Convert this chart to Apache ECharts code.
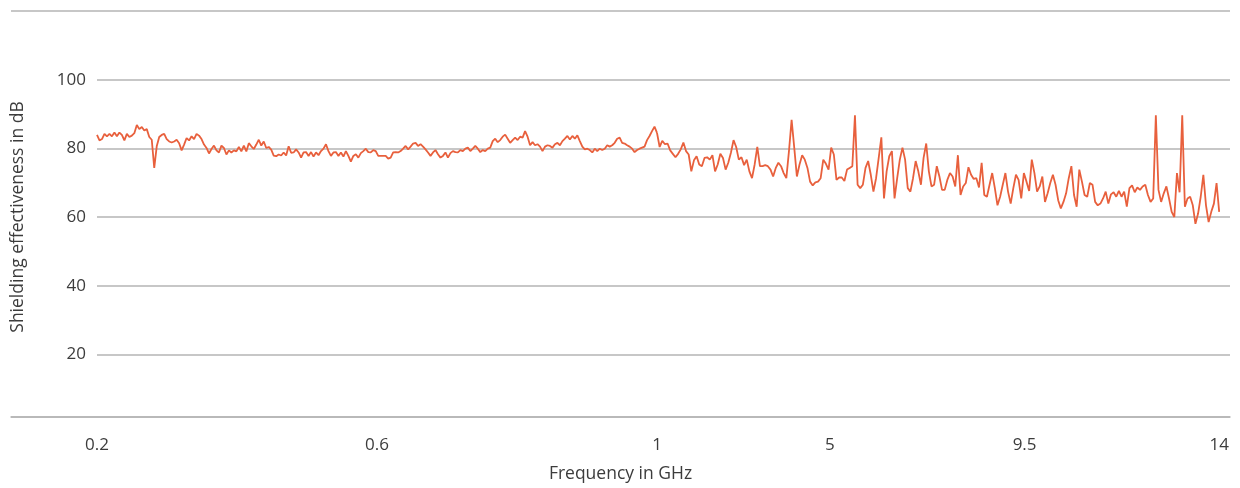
<!DOCTYPE html>
<html>
<head>
<meta charset="utf-8">
<script src="https://cdn.jsdelivr.net/npm/echarts@6/dist/echarts.min.js"></script>
<style>
html,body{margin:0;padding:0;background:#fff;}
#chart{width:1240px;height:488px;}
</style>
</head>
<body>
<div id="chart"></div>
<script>
// Frequency sweep bands (GHz)
const lowBandStart = 0.2;
const lowBandEnd = 1;
const highBandStart = 1;
const highBandEnd = 14;

// Shielding effectiveness (dB), 0.2 - 1 GHz sweep
const lowBandValues = [
  83.9, 82.3, 82.7, 84.2, 83.5, 84.2, 83.5, 84.6, 83.5, 84.6, 83.9, 82.3, 84.2, 83.3, 83.7, 84.4, 86.8, 85.6, 86.2, 85.2,
  85.6, 83.3, 82.5, 74.3, 80.6, 83.3, 83.9, 84.2, 82.7, 82.0, 81.7, 82.0, 82.5, 81.5, 79.4, 81.1, 83.0, 82.3, 83.5, 82.7,
  84.2, 83.7, 82.7, 81.1, 80.1, 78.5, 79.8, 80.8, 79.4, 78.8, 80.8, 80.1, 78.2, 79.4, 78.8, 79.4, 79.1, 80.4, 79.1, 80.8,
  79.1, 81.5, 80.6, 79.8, 81.1, 82.5, 80.8, 82.0, 80.1, 80.4, 79.6, 77.9, 77.7, 78.2, 77.9, 78.8, 77.9, 80.6, 78.7,
  78.8, 79.7, 78.8, 77.3, 78.8, 78.9, 77.8, 78.9, 77.6, 78.8, 78.0, 79.2, 79.9, 81.2, 79.2, 77.8, 78.8, 78.9, 77.8, 78.8,
  77.6, 79.2, 77.8, 76.1, 77.8, 78.3, 77.3, 78.6, 79.2, 79.9, 78.9, 78.8, 79.5, 79.2, 77.8, 77.8, 77.8, 77.8, 77.0, 77.3,
  78.8, 78.9, 78.8, 79.2, 79.9, 80.7, 79.7, 80.5, 81.4, 81.6, 80.7, 81.2, 80.5, 79.7, 78.8, 77.8, 78.8, 79.5, 78.3, 77.3,
  77.8, 78.8, 77.3, 78.6, 79.2, 78.9, 78.8, 79.5, 79.2, 79.9, 80.2, 79.2, 79.9, 80.7, 79.9, 78.9,
  79.5, 79.2, 79.9, 80.2, 82.1, 82.8, 81.8, 82.4, 83.4, 84.0, 82.8, 81.6, 82.4, 83.1, 82.4, 83.4, 83.1, 85.0, 83.4, 80.9,
  81.8, 80.9, 81.2, 80.5, 79.2, 80.5, 80.9, 80.7, 80.2, 81.2, 81.6, 80.9, 82.1, 82.8, 83.6, 82.6, 83.6, 82.8, 83.8, 82.1,
  80.5, 79.7, 79.9, 79.5, 78.8, 79.9, 79.2, 79.9, 79.5, 79.9, 80.9, 80.5, 80.9, 81.6, 82.8, 83.1, 81.6, 81.4, 80.9, 80.5,
  79.9, 78.9, 79.5, 79.9, 80.2, 80.5, 82.4, 83.6, 85.0, 86.3, 84.5
];

// Shielding effectiveness (dB), 1 - 14 GHz sweep
const highBandValues = [
  84.5,
  80.4, 82.2, 81.2, 81.4, 79.4, 78.4, 77.4, 78.4, 79.7, 81.7, 79.2, 78.2, 73.3, 76.5, 77.7, 75.3, 74.8, 77.2, 77.4, 76.7,
  78.0, 73.3, 75.3, 78.4, 77.2, 73.8, 75.8, 78.7, 82.4, 80.4, 76.7, 77.4, 75.1, 76.7, 73.3, 71.3, 75.3, 80.4, 74.8, 74.8,
  75.1, 74.8, 73.8, 71.8, 74.3, 75.8, 74.8, 72.8, 71.3, 79.2, 88.3, 80.2, 71.8, 75.3, 78.0, 76.7, 74.3, 70.3, 69.2, 70.1,
  70.3, 71.3, 76.7, 75.5, 73.8, 80.2, 78.2, 70.8, 71.5, 71.5, 70.5,
  73.8, 74.3, 74.8, 89.6, 69.4, 68.4, 69.4, 74.3, 76.3, 72.3, 67.4, 71.3, 77.2, 83.2, 65.4, 73.3, 77.7, 79.2, 65.4, 71.3,
  76.7, 80.2, 76.7, 68.4, 67.4, 71.3, 76.3, 73.3, 69.4, 77.2, 81.4, 73.3, 68.9, 69.4, 74.8, 71.8, 67.9, 67.9, 70.8, 72.8,
  71.8, 68.9, 78.0, 66.4, 68.9, 69.9, 74.5, 72.3, 71.1, 71.3, 68.6, 75.8, 66.4, 65.9, 69.4, 72.8, 68.4, 63.4, 65.9, 69.4,
  72.8, 67.4, 63.9, 68.4, 72.3, 70.8, 65.4, 72.8, 70.3, 67.6, 76.7,
  72.8, 67.4, 68.9, 71.8, 64.4, 66.9, 69.9, 72.3, 69.4, 64.9, 62.5, 64.4, 66.9, 71.3, 74.8, 66.4, 63.0, 73.8, 70.3, 66.4,
  65.9, 69.9, 69.4, 64.4, 63.4, 63.9, 65.4, 67.4, 63.9, 66.6, 67.2, 65.9, 67.6, 65.9, 67.4, 63.0, 68.4, 69.2, 67.2, 68.6,
  67.9, 68.9, 69.4, 66.4, 64.4, 65.4, 89.6, 67.9, 64.4, 66.9, 68.9, 65.4, 61.5, 60.0, 72.8, 67.2, 89.6, 63.0, 65.4, 65.9,
  63.4, 58.0, 61.0, 65.9, 72.3, 63.4, 58.5, 61.5, 63.9, 69.9, 61.5
];

// Axis ticks and labels
const yTickValues = [20, 40, 60, 80, 100];
const lowBandTicks = [0.2, 0.6, 1];
const highBandTicks = [5, 9.5, 14];
const xAxisTitle = 'Frequency in GHz';
const yAxisTitle = 'Shielding effectiveness in dB';

function sweep(values, f0, f1) {
  const n = values.length;
  return values.map((v, i) => [f0 + (f1 - f0) * i / (n - 1), v]);
}

const FONT = '"Open Sans", "DejaVu Sans", sans-serif';
const TEXT = '#3c3c3c';
const GRID_COLOR = '#b5b5b5';
const LINE_COLOR = '#e8603d';
const TICK_SIZE = 17;
const TITLE_SIZE = 17.5;

const chart = echarts.init(document.getElementById('chart'), null, {renderer: 'canvas'});

const yLabelFmt = v => (yTickValues.indexOf(v) >= 0 ? String(v) : '');

chart.setOption({
  animation: false,
  backgroundColor: '#fff',
  textStyle: {fontFamily: FONT},
  grid: [
    {left: 11, right: 10, top: 11, bottom: 65},
    {left: 97, width: 560, top: 11, bottom: 65},
    {left: 657, right: 10, top: 11, bottom: 65}
  ],
  xAxis: [
    {
      gridIndex: 0, type: 'value', min: 0, max: 1,
      axisLine: {show: true, lineStyle: {color: GRID_COLOR, width: 1.5}},
      axisTick: {show: false}, axisLabel: {show: false}, splitLine: {show: false},
      name: xAxisTitle, nameLocation: 'middle', nameGap: 48,
      nameTextStyle: {color: TEXT, fontSize: TITLE_SIZE, fontFamily: FONT}
    },
    {
      gridIndex: 1, type: 'value', min: lowBandStart, max: lowBandEnd,
      axisLine: {show: false}, axisTick: {show: false}, splitLine: {show: false},
      axisLabel: {
        customValues: lowBandTicks, formatter: v => String(v),
        color: TEXT, fontSize: TICK_SIZE, fontFamily: FONT, margin: 14,
        showMinLabel: true, showMaxLabel: true
      }
    },
    {
      gridIndex: 2, type: 'value', min: highBandStart, max: 14.25,
      axisLine: {show: false}, axisTick: {show: false}, splitLine: {show: false},
      axisLabel: {
        customValues: highBandTicks, formatter: v => String(v),
        color: TEXT, fontSize: TICK_SIZE, fontFamily: FONT, margin: 14
      }
    }
  ],
  yAxis: [
    {
      gridIndex: 0, type: 'value', min: 0, max: 120, interval: 120,
      axisLine: {show: false}, axisTick: {show: false}, axisLabel: {show: false},
      splitLine: {show: true, lineStyle: {color: GRID_COLOR, width: 1.5}}
    },
    {
      gridIndex: 1, type: 'value', min: 0, max: 120, interval: 20,
      axisLine: {show: false}, axisTick: {show: false},
      axisLabel: {formatter: yLabelFmt, color: TEXT, fontSize: TICK_SIZE, fontFamily: FONT, margin: 11,
                  showMinLabel: false, showMaxLabel: false},
      splitLine: {show: true, showMinLine: false, showMaxLine: false,
                  lineStyle: {color: GRID_COLOR, width: 1.5}},
      name: yAxisTitle, nameLocation: 'middle', nameGap: 70, nameRotate: 90,
      nameTextStyle: {color: TEXT, fontSize: TITLE_SIZE, fontFamily: FONT}
    },
    {
      gridIndex: 2, type: 'value', min: 0, max: 120, interval: 20,
      axisLine: {show: false}, axisTick: {show: false}, axisLabel: {show: false},
      splitLine: {show: true, showMinLine: false, showMaxLine: false,
                  lineStyle: {color: GRID_COLOR, width: 1.5}}
    }
  ],
  series: [
    {
      type: 'line', xAxisIndex: 1, yAxisIndex: 1,
      data: sweep(lowBandValues, lowBandStart, lowBandEnd),
      showSymbol: false, symbol: 'none', smooth: false,
      lineStyle: {color: LINE_COLOR, width: 1.8}, z: 5
    },
    {
      type: 'line', xAxisIndex: 2, yAxisIndex: 2,
      data: sweep(highBandValues, highBandStart, highBandEnd),
      showSymbol: false, symbol: 'none', smooth: false,
      lineStyle: {color: LINE_COLOR, width: 1.8}, z: 5
    }
  ]
});
</script>
</body>
</html>
